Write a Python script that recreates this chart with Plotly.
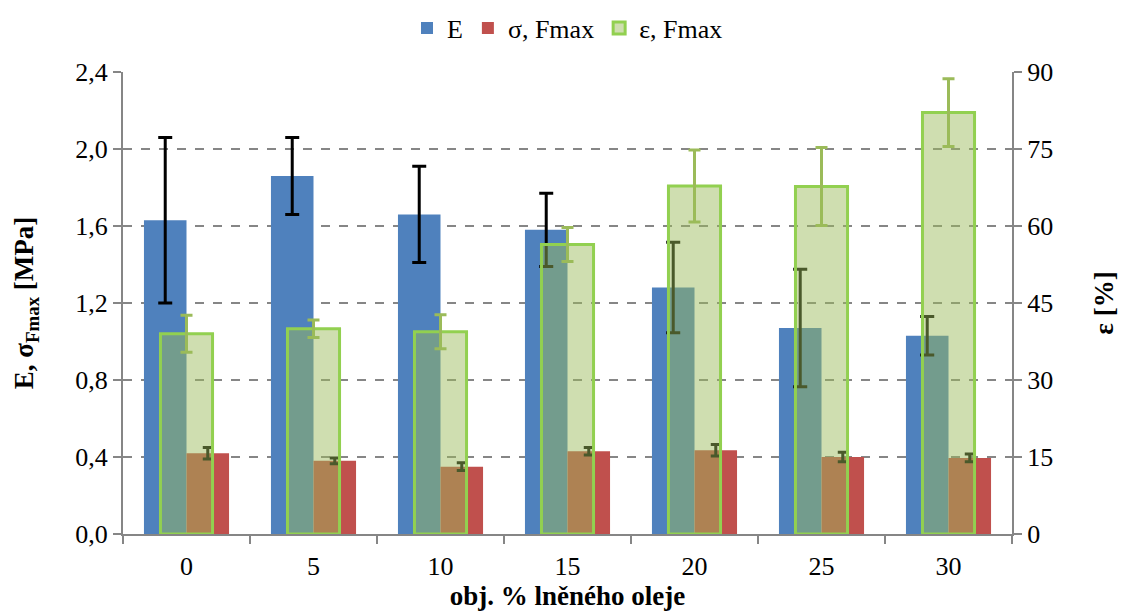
import plotly.graph_objects as go

categories = ["0", "5", "10", "15", "20", "25", "30"]
E_vals = [1.63, 1.86, 1.66, 1.58, 1.28, 1.07, 1.03]
E_err = [0.43, 0.20, 0.25, 0.19, 0.235, 0.305, 0.10]
sigma_vals = [0.42, 0.38, 0.35, 0.43, 0.435, 0.40, 0.395]
sigma_err = [0.03, 0.015, 0.02, 0.02, 0.03, 0.025, 0.02]
eps_vals = [39.0, 40.0, 39.4, 56.4, 67.8, 67.7, 82.1]
eps_err = [3.6, 1.7, 3.3, 3.3, 7.0, 7.6, 6.6]

FONT = "Liberation Serif"
GRID = "#868686"
FS = 26

fig = go.Figure()
fig.add_trace(go.Bar(
    x=categories, y=E_vals, name="E", yaxis="y",
    marker=dict(color="#4F81BD", line=dict(width=0)),
    width=0.335, offset=-0.335,
    error_y=dict(type="data", array=E_err, color="black", thickness=3, width=7),
))
fig.add_trace(go.Bar(
    x=categories, y=sigma_vals, name="σ, Fmax", yaxis="y",
    marker=dict(color="#C0504D", line=dict(width=0)),
    width=0.335, offset=0.0,
    error_y=dict(type="data", array=sigma_err, color="black", thickness=3, width=5),
))
fig.add_trace(go.Bar(
    x=categories, y=eps_vals, name="ε, Fmax", yaxis="y2",
    marker=dict(color="rgba(155,187,89,0.48)", line=dict(color="#92D050", width=3)),
    width=0.41, offset=-0.205,
    error_y=dict(type="data", array=eps_err, color="#9BBB59", thickness=3, width=6),
))

fig.update_layout(
    width=1121, height=615,
    margin=dict(l=123, r=109, t=72, b=81, autoexpand=False),
    paper_bgcolor="white", plot_bgcolor="white",
    barmode="overlay",
    separators=", ",
    font=dict(family=FONT, size=FS, color="black"),
    showlegend=True,
    legend=dict(orientation="h", x=0.5, xanchor="center", y=1.095, yanchor="middle",
                font=dict(family=FONT, size=FS), itemwidth=30, traceorder="normal",
                bgcolor="rgba(0,0,0,0)"),
    xaxis=dict(
        type="category", showline=True, linecolor=GRID, linewidth=2,
        ticks="outside", tickson="boundaries", ticklen=8, tickcolor=GRID, tickwidth=2,
        ticklabelstandoff=8,
        showgrid=False, tickfont=dict(family=FONT, size=FS),
        title=dict(text="<b>obj. % lněného oleje</b>", font=dict(family=FONT, size=FS + 1), standoff=4),
    ),
    yaxis=dict(
        range=[0, 2.4], dtick=0.4, tickformat=".1f",
        showline=True, linecolor=GRID, linewidth=2,
        ticks="outside", ticklen=8, tickcolor=GRID, tickwidth=2,
        showgrid=True, gridcolor=GRID, griddash="dash", gridwidth=2,
        zeroline=False, tickfont=dict(family=FONT, size=FS),
        title=dict(text="<b>E, σ<sub>Fmax</sub> [MPa]</b>", font=dict(family=FONT, size=FS + 1), standoff=34),
    ),
    yaxis2=dict(
        range=[0, 90], dtick=15, overlaying="y", side="right",
        showline=True, linecolor=GRID, linewidth=2,
        ticks="outside", ticklen=8, tickcolor=GRID, tickwidth=2,
        showgrid=False, zeroline=False, tickfont=dict(family=FONT, size=FS),
        title=dict(text="<b>ε [%]</b>", font=dict(family=FONT, size=FS + 1), standoff=42),
    ),
)

fig.write_html("out.html")
